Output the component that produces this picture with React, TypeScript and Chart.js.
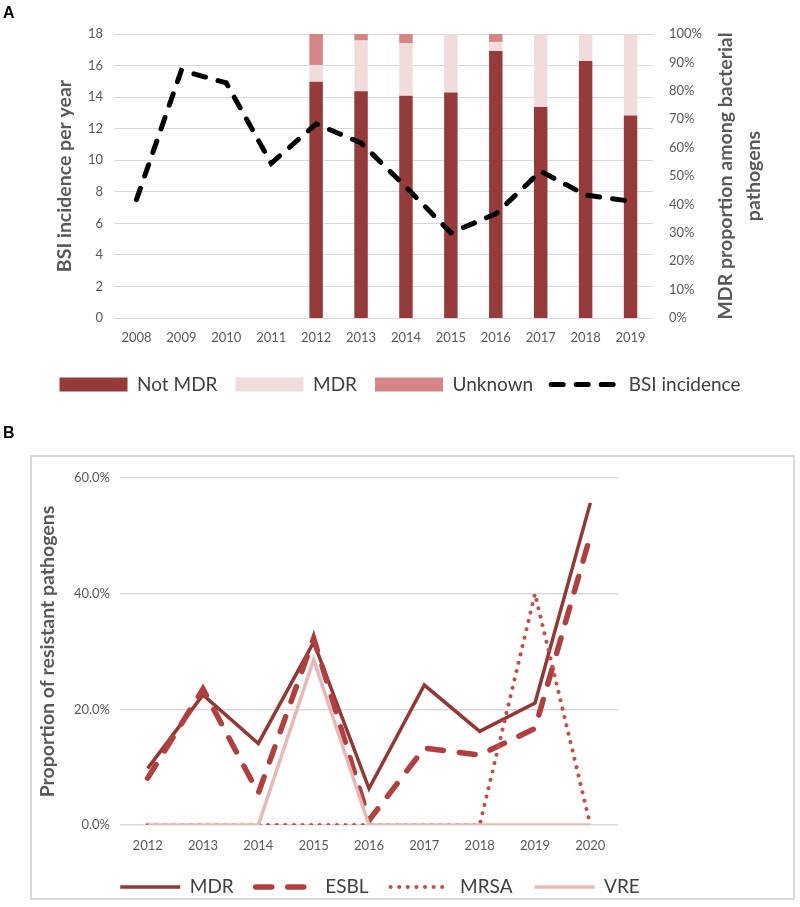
import React, { useEffect, useRef } from "react";
import { Chart, registerables } from "chart.js";

Chart.register(...registerables);

const FONT = "Lato, 'Open Sans', sans-serif";
const TICK_COLOR = "#595959";
const TITLE_COLOR = "#595959";
const LEGEND_COLOR = "#404040";
const GRID_COLOR = "#D9D9D9";
const TITLE_SIZE = 19.5;
const LEGEND_SIZE = 19;

// ---------- Panel A data ----------
const yearsA = ["2008", "2009", "2010", "2011", "2012", "2013", "2014", "2015", "2016", "2017", "2018", "2019"];
const bsiIncidence = [7.5, 15.7, 14.9, 9.8, 12.3, 11.1, 8.3, 5.4, 6.6, 9.3, 7.8, 7.4];
const notMdrPct = [null, null, null, null, 83.2, 79.8, 78.3, 79.4, 94.0, 74.3, 90.5, 71.3];
const mdrPct = [null, null, null, null, 5.9, 17.9, 18.4, 20.6, 3.2, 25.7, 9.5, 28.7];
const unknownPct = [null, null, null, null, 10.9, 2.3, 3.3, 0, 2.8, 0, 0, 0];
const leftTitleA = "BSI incidence per year";
const rightTitleA = ["MDR proportion among bacterial", "pathogens"];

// ---------- Panel B data ----------
const yearsB = ["2012", "2013", "2014", "2015", "2016", "2017", "2018", "2019", "2020"];
const mdrB = [9.8, 22.5, 14.1, 31.6, 6.3, 24.2, 16.2, 21.1, 55.7];
const esblB = [8.1, 23.5, 5.5, 32.3, 0.8, 13.3, 12.1, 16.7, 50.0];
const mrsaB = [0, 0, 0, 0, 0, 0, 0, 40.0, 0];
const vreB = [0, 0, 0, 28.6, 0, 0, 0, 0, 0];
const leftTitleB = "Proportion of resistant pathogens";

function makeLegendLabels(chart: any) {
  return chart.data.datasets.map((ds: any, i: number) => {
    const isLine = ds.type === "line" || (chart.config.type === "line" && ds.type !== "bar");
    return {
      text: ds.label,
      datasetIndex: i,
      fillStyle: isLine ? "rgba(0,0,0,0)" : ds.backgroundColor,
      strokeStyle: isLine ? ds.borderColor : ds.backgroundColor,
      lineWidth: isLine ? ds.borderWidth : 0,
      lineDash: isLine ? ds.borderDash || [] : [],
      lineCap: isLine ? ds.borderCapStyle || "butt" : "butt",
      pointStyle: isLine ? "line" : "rect",
      hidden: false,
      fontColor: LEGEND_COLOR,
    };
  });
}

const rightTitlePlugin = {
  id: "rightTitleA",
  afterDraw(chart: any) {
    const { ctx, chartArea } = chart;
    ctx.save();
    ctx.fillStyle = TITLE_COLOR;
    ctx.font = `bold ${TITLE_SIZE}px ${FONT}`;
    ctx.textAlign = "center";
    ctx.textBaseline = "middle";
    const cy = (chartArea.top + chartArea.bottom) / 2;
    rightTitleA.forEach((line, i) => {
      ctx.save();
      ctx.translate(chartArea.right + 73 + i * 28, cy);
      ctx.rotate(-Math.PI / 2);
      ctx.fillText(line, 0, 0);
      ctx.restore();
    });
    ctx.restore();
  },
};

function PanelA() {
  const ref = useRef<HTMLCanvasElement>(null);
  useEffect(() => {
    const chart = new Chart(ref.current as HTMLCanvasElement, {
      type: "bar",
      data: {
        labels: yearsA,
        datasets: [
          {
            type: "bar",
            label: "Not MDR",
            data: notMdrPct,
            backgroundColor: "#973B3A",
            yAxisID: "y2",
            stack: "s",
            order: 1,
            categoryPercentage: 1,
            barPercentage: 0.3,
          },
          {
            type: "bar",
            label: "MDR",
            data: mdrPct,
            backgroundColor: "#F2DCDB",
            yAxisID: "y2",
            stack: "s",
            order: 1,
            categoryPercentage: 1,
            barPercentage: 0.3,
          },
          {
            type: "bar",
            label: "Unknown",
            data: unknownPct,
            backgroundColor: "#D48584",
            yAxisID: "y2",
            stack: "s",
            order: 1,
            categoryPercentage: 1,
            barPercentage: 0.3,
          },
          {
            type: "line",
            label: "BSI incidence",
            data: bsiIncidence,
            borderColor: "#000000",
            backgroundColor: "#000000",
            borderWidth: 5,
            borderDash: [12, 13],
            borderCapStyle: "round",
            pointRadius: 0,
            tension: 0,
            yAxisID: "y",
            order: 0,
          },
        ] as any,
      },
      options: {
        responsive: false,
        animation: false,
        layout: { padding: { top: 34, left: 0, right: 0, bottom: 0 } },
        plugins: {
          tooltip: { enabled: false },
          legend: {
            position: "bottom",
            labels: {
              usePointStyle: true,
              pointStyleWidth: 68,
              boxHeight: 14,
              padding: 18,
              color: LEGEND_COLOR,
              font: { family: FONT, size: LEGEND_SIZE },
              generateLabels: makeLegendLabels,
            },
          },
        },
        scales: {
          x: {
            stacked: true,
            grid: { display: false, drawTicks: false },
            border: { display: false },
            ticks: {
              color: TICK_COLOR,
              font: { family: FONT, size: 13 },
              padding: 12,
              maxRotation: 0,
              autoSkip: false,
            },
            afterFit: (s: any) => {
              s.height = 39;
            },
          },
          y: {
            position: "left",
            min: 0,
            max: 18,
            ticks: {
              stepSize: 2,
              color: TICK_COLOR,
              font: { family: FONT, size: 13 },
              padding: 11,
            },
            grid: { color: GRID_COLOR, drawTicks: false },
            border: { display: false },
            title: {
              display: true,
              text: leftTitleA,
              color: TITLE_COLOR,
              font: { family: FONT, size: TITLE_SIZE, weight: "bold" },
              padding: { top: 53, bottom: 0 },
            },
            afterFit: (s: any) => {
              s.width = 114;
            },
          },
          y2: {
            position: "right",
            stacked: true,
            min: 0,
            max: 100,
            ticks: {
              stepSize: 10,
              color: TICK_COLOR,
              font: { family: FONT, size: 13 },
              padding: 16,
              callback: (v: any) => v + "%",
            },
            grid: { display: false, drawTicks: false },
            border: { display: false },
            afterFit: (s: any) => {
              s.width = 147;
            },
          },
        },
      } as any,
      plugins: [rightTitlePlugin],
    });
    return () => chart.destroy();
  }, []);
  return (
    <canvas
      ref={ref}
      width={800}
      height={404}
      style={{ position: "absolute", left: 0, top: 0, width: 800, height: 404 }}
    />
  );
}

function PanelB() {
  const ref = useRef<HTMLCanvasElement>(null);
  useEffect(() => {
    const chart = new Chart(ref.current as HTMLCanvasElement, {
      type: "line",
      data: {
        labels: yearsB,
        datasets: [
          {
            label: "MDR",
            data: mdrB,
            borderColor: "#953735",
            backgroundColor: "#953735",
            borderWidth: 3.5,
            pointRadius: 0,
            tension: 0,
            order: 4,
          },
          {
            label: "ESBL",
            data: esblB,
            borderColor: "#B23F3D",
            backgroundColor: "#B23F3D",
            borderWidth: 5.5,
            borderDash: [16, 16],
            borderCapStyle: "round",
            pointRadius: 0,
            tension: 0,
            order: 3,
          },
          {
            label: "MRSA",
            data: mrsaB,
            borderColor: "#C0504D",
            backgroundColor: "#C0504D",
            borderWidth: 4,
            borderDash: [0.1, 8.5],
            borderCapStyle: "round",
            pointRadius: 0,
            tension: 0,
            order: 2,
          },
          {
            label: "VRE",
            data: vreB,
            borderColor: "#E6B9B8",
            backgroundColor: "#E6B9B8",
            borderWidth: 3.5,
            pointRadius: 0,
            tension: 0,
            order: 1,
          },
        ] as any,
      },
      options: {
        responsive: false,
        animation: false,
        layout: { padding: { top: 21, left: 0, right: 65, bottom: -8.5 } },
        plugins: {
          tooltip: { enabled: false },
          legend: {
            position: "bottom",
            labels: {
              usePointStyle: true,
              pointStyleWidth: 60,
              boxHeight: 14,
              padding: 22,
              color: LEGEND_COLOR,
              font: { family: FONT, size: LEGEND_SIZE },
              generateLabels: makeLegendLabels,
            },
          },
        },
        scales: {
          x: {
            offset: true,
            grid: { display: false, drawTicks: false },
            border: { display: false },
            ticks: {
              color: TICK_COLOR,
              font: { family: FONT, size: 13 },
              padding: 13,
              maxRotation: 0,
              autoSkip: false,
            },
            afterFit: (s: any) => {
              s.height = 30.5;
            },
          },
          y: {
            min: 0,
            max: 60,
            ticks: {
              stepSize: 20,
              color: TICK_COLOR,
              font: { family: FONT, size: 13, lineHeight: 1 },
              padding: 10,
              callback: (v: any) => Number(v).toFixed(1) + "%",
            },
            grid: { color: GRID_COLOR, drawTicks: false, lineWidth: 1.5 },
            border: { display: false },
            title: {
              display: true,
              text: leftTitleB,
              color: TITLE_COLOR,
              font: { family: FONT, size: TITLE_SIZE, weight: "bold" },
              padding: { top: 4.5, bottom: 0 },
            },
            afterFit: (s: any) => {
              s.width = 88;
              s.paddingTop = 0;
              s.paddingBottom = 0;
            },
          },
          y2: {
            position: "right",
            display: true,
            grid: { display: false, drawTicks: false },
            border: { display: false },
            ticks: { display: false },
            afterFit: (s: any) => {
              s.width = 110;
              s.paddingTop = 0;
              s.paddingBottom = 0;
            },
          },
        },
      } as any,
    });
    return () => chart.destroy();
  }, []);
  return (
    <canvas
      ref={ref}
      width={761}
      height={441}
      style={{ position: "absolute", left: 0, top: 0, width: 761, height: 441 }}
    />
  );
}

export default function App() {
  return (
    <div
      style={{
        position: "absolute",
        left: 0,
        top: 0,
        width: 800,
        height: 907,
        background: "#ffffff",
        overflow: "hidden",
      }}
    >
      <PanelA />
      <div
        style={{
          position: "absolute",
          left: 3,
          top: 4,
          font: "bold 16px 'Liberation Sans', Arial, sans-serif",
          color: "#000",
        }}
      >
        A
      </div>
      <div
        style={{
          position: "absolute",
          left: 3,
          top: 424,
          font: "bold 16px 'Liberation Sans', Arial, sans-serif",
          color: "#000",
        }}
      >
        B
      </div>
      <div
        style={{
          position: "absolute",
          left: 30,
          top: 455,
          width: 765,
          height: 445,
          boxSizing: "border-box",
          border: "2px solid #D9D9D9",
        }}
      >
        <PanelB />
      </div>
    </div>
  );
}
